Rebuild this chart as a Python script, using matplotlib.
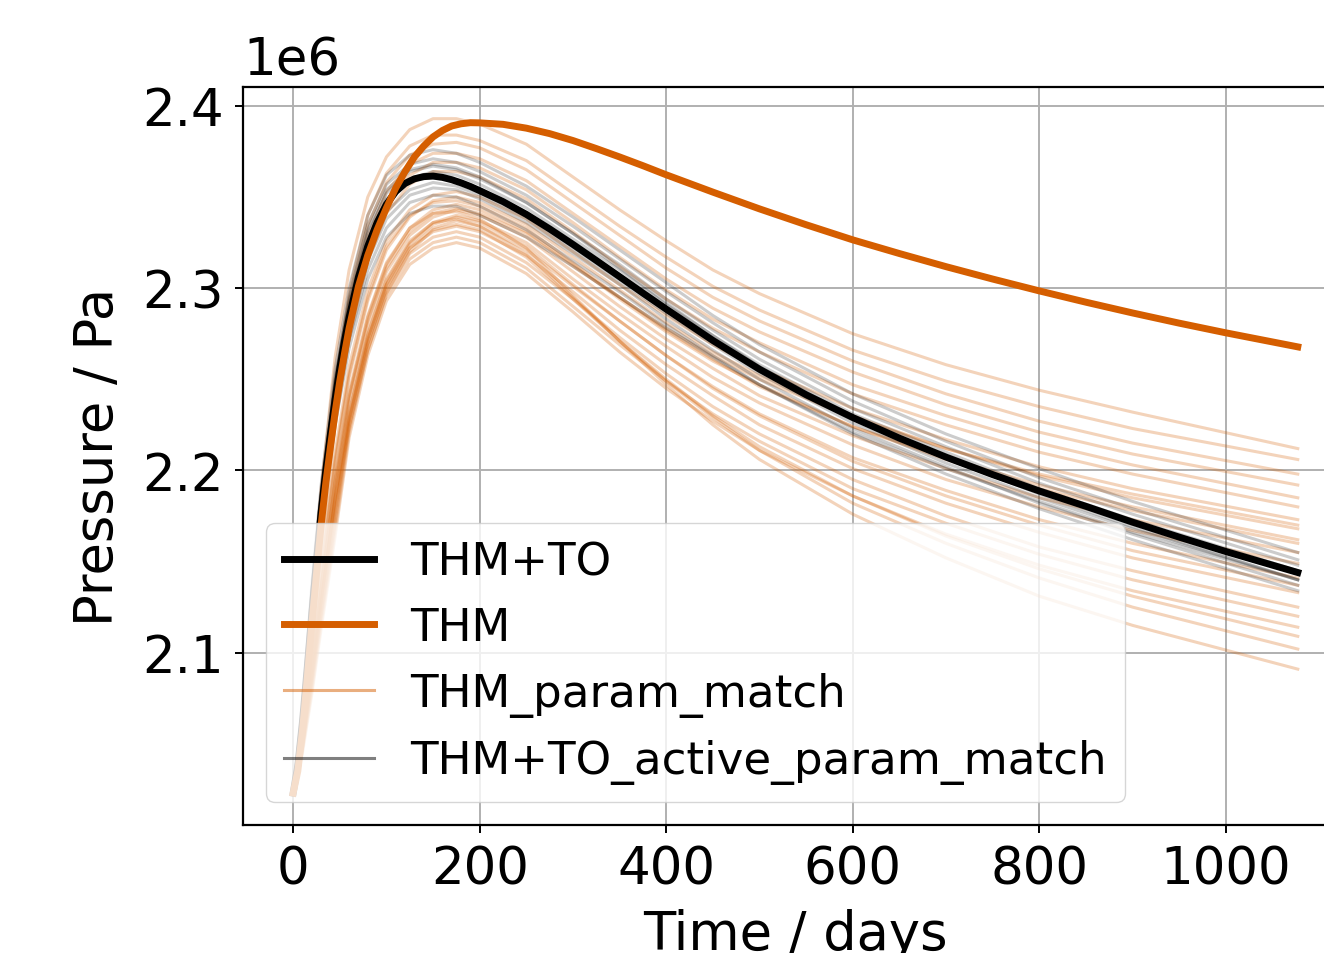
import matplotlib
matplotlib.use("Agg")
import matplotlib.pyplot as plt
from matplotlib.lines import Line2D
import numpy as np

# time axis of the two reference runs (days)
t_main = [0, 5, 10, 15, 20, 25, 30, 35, 40, 45, 50, 55, 60,
          70, 80, 90, 100, 110, 120, 130, 140, 150, 160, 170, 180, 190, 200,
          225, 250, 275, 300, 325, 350, 375, 400,
          450, 500, 550, 600, 650, 700, 750, 800, 850, 900, 950, 1000, 1077]

# pressure (x1e6 Pa)
p_thm_to = [2.023, 2.038, 2.062, 2.091, 2.121, 2.150, 2.177, 2.200, 2.220, 2.239, 2.256, 2.271, 2.284,
            2.306, 2.323, 2.336, 2.346, 2.353, 2.3575, 2.3600, 2.3612, 2.3615, 2.3608, 2.3595, 2.3578, 2.3558, 2.3535,
            2.3475, 2.3405, 2.3325, 2.3240, 2.3152, 2.3063, 2.2973, 2.2885,
            2.2713, 2.2555, 2.2415, 2.2290, 2.2177, 2.2073, 2.1977, 2.1887, 2.1803, 2.1716, 2.1634, 2.1555, 2.1440]
p_thm = [2.023, 2.035, 2.057, 2.085, 2.115, 2.143, 2.170, 2.193, 2.213, 2.232, 2.249, 2.264, 2.278,
         2.301, 2.318, 2.332, 2.344, 2.355, 2.364, 2.372, 2.378, 2.383, 2.3865, 2.389, 2.3902, 2.3908, 2.3907,
         2.3899, 2.3878, 2.3848, 2.3810, 2.3766, 2.3720, 2.3672, 2.3622,
         2.3527, 2.3435, 2.3348, 2.3265, 2.3190, 2.3118, 2.3050, 2.2985, 2.2923, 2.2864, 2.2808, 2.2755, 2.2678]

# time axis of the parameter matched ensembles
t_ens = [0, 10, 20, 30, 45, 60, 80, 100, 125, 150, 175,
         200, 250, 300, 350, 400, 450, 500, 600, 700, 800, 900, 1077]

thm_param_match = [
    [2.023, 2.070, 2.130, 2.190, 2.262, 2.310, 2.350, 2.372, 2.387, 2.393, 2.393, 2.390, 2.379, 2.361, 2.343, 2.326, 2.310, 2.297, 2.275, 2.258, 2.244, 2.232, 2.212],
    [2.023, 2.066, 2.122, 2.178, 2.248, 2.298, 2.340, 2.363, 2.378, 2.384, 2.384, 2.381, 2.370, 2.352, 2.334, 2.317, 2.301, 2.288, 2.266, 2.249, 2.235, 2.223, 2.206],
    [2.023, 2.062, 2.115, 2.168, 2.236, 2.285, 2.328, 2.353, 2.368, 2.374, 2.374, 2.371, 2.359, 2.341, 2.323, 2.305, 2.289, 2.276, 2.254, 2.236, 2.221, 2.209, 2.192],
    [2.023, 2.058, 2.108, 2.158, 2.224, 2.272, 2.315, 2.341, 2.357, 2.364, 2.364, 2.361, 2.349, 2.331, 2.312, 2.294, 2.278, 2.265, 2.242, 2.225, 2.210, 2.198, 2.180],
    [2.023, 2.055, 2.101, 2.148, 2.210, 2.257, 2.299, 2.326, 2.343, 2.351, 2.353, 2.350, 2.338, 2.320, 2.302, 2.285, 2.269, 2.256, 2.234, 2.217, 2.202, 2.190, 2.173],
    [2.023, 2.054, 2.098, 2.143, 2.204, 2.251, 2.293, 2.321, 2.339, 2.348, 2.350, 2.347, 2.335, 2.317, 2.299, 2.281, 2.265, 2.252, 2.230, 2.212, 2.197, 2.185, 2.168],
    [2.023, 2.052, 2.094, 2.137, 2.196, 2.243, 2.285, 2.314, 2.333, 2.343, 2.346, 2.343, 2.331, 2.313, 2.294, 2.276, 2.260, 2.247, 2.224, 2.207, 2.192, 2.180, 2.162],
    [2.023, 2.051, 2.091, 2.133, 2.190, 2.237, 2.279, 2.309, 2.329, 2.339, 2.343, 2.340, 2.328, 2.309, 2.290, 2.272, 2.256, 2.241, 2.219, 2.201, 2.185, 2.173, 2.155],
    [2.023, 2.050, 2.088, 2.129, 2.185, 2.231, 2.274, 2.304, 2.325, 2.336, 2.340, 2.337, 2.325, 2.305, 2.286, 2.268, 2.251, 2.237, 2.214, 2.195, 2.180, 2.167, 2.149],
    [2.023, 2.049, 2.086, 2.126, 2.181, 2.227, 2.270, 2.300, 2.322, 2.333, 2.337, 2.334, 2.321, 2.301, 2.282, 2.263, 2.246, 2.231, 2.207, 2.189, 2.173, 2.160, 2.141],
    [2.023, 2.048, 2.083, 2.122, 2.176, 2.228, 2.272, 2.302, 2.322, 2.331, 2.334, 2.331, 2.318, 2.298, 2.277, 2.258, 2.241, 2.225, 2.201, 2.182, 2.166, 2.152, 2.133],
    [2.023, 2.047, 2.081, 2.119, 2.172, 2.224, 2.269, 2.299, 2.319, 2.328, 2.331, 2.328, 2.314, 2.294, 2.273, 2.253, 2.235, 2.220, 2.195, 2.175, 2.158, 2.145, 2.125],
    [2.023, 2.046, 2.079, 2.116, 2.168, 2.221, 2.266, 2.296, 2.316, 2.325, 2.328, 2.325, 2.311, 2.290, 2.269, 2.249, 2.231, 2.216, 2.190, 2.171, 2.154, 2.140, 2.120],
    [2.023, 2.045, 2.077, 2.113, 2.164, 2.218, 2.263, 2.293, 2.313, 2.322, 2.325, 2.322, 2.308, 2.287, 2.265, 2.245, 2.227, 2.211, 2.186, 2.165, 2.148, 2.134, 2.114],
    [2.023, 2.048, 2.084, 2.123, 2.178, 2.224, 2.266, 2.297, 2.320, 2.332, 2.335, 2.332, 2.317, 2.294, 2.271, 2.250, 2.230, 2.213, 2.186, 2.164, 2.146, 2.131, 2.109],
    [2.023, 2.050, 2.088, 2.129, 2.185, 2.232, 2.275, 2.305, 2.326, 2.336, 2.338, 2.334, 2.319, 2.295, 2.271, 2.249, 2.229, 2.211, 2.182, 2.160, 2.141, 2.125, 2.102],
    [2.023, 2.052, 2.093, 2.136, 2.194, 2.241, 2.284, 2.313, 2.333, 2.341, 2.342, 2.338, 2.322, 2.296, 2.271, 2.247, 2.225, 2.206, 2.176, 2.152, 2.131, 2.115, 2.091],
    [2.023, 2.054, 2.098, 2.145, 2.206, 2.253, 2.295, 2.323, 2.340, 2.347, 2.348, 2.345, 2.333, 2.314, 2.295, 2.277, 2.261, 2.246, 2.224, 2.206, 2.190, 2.178, 2.160],
    [2.023, 2.060, 2.112, 2.163, 2.230, 2.278, 2.321, 2.347, 2.362, 2.369, 2.369, 2.366, 2.354, 2.336, 2.317, 2.299, 2.283, 2.270, 2.247, 2.230, 2.215, 2.203, 2.185],
    [2.023, 2.064, 2.118, 2.173, 2.242, 2.292, 2.334, 2.358, 2.373, 2.379, 2.380, 2.377, 2.365, 2.347, 2.329, 2.311, 2.295, 2.282, 2.260, 2.242, 2.227, 2.215, 2.198],
    [2.023, 2.051, 2.092, 2.135, 2.193, 2.240, 2.282, 2.311, 2.331, 2.341, 2.344, 2.341, 2.330, 2.312, 2.295, 2.278, 2.263, 2.250, 2.229, 2.212, 2.198, 2.187, 2.170],
    [2.023, 2.050, 2.087, 2.128, 2.183, 2.229, 2.272, 2.302, 2.324, 2.335, 2.339, 2.336, 2.323, 2.302, 2.282, 2.263, 2.245, 2.230, 2.205, 2.186, 2.170, 2.156, 2.137],
]

thm_to_active_param_match = [
    [2.023, 2.070, 2.137, 2.192, 2.256, 2.300, 2.340, 2.362, 2.373, 2.376, 2.374, 2.369, 2.356, 2.339, 2.321, 2.303, 2.285, 2.269, 2.242, 2.220, 2.201, 2.183, 2.155],
    [2.023, 2.069, 2.134, 2.188, 2.251, 2.295, 2.335, 2.357, 2.368, 2.371, 2.369, 2.364, 2.351, 2.334, 2.316, 2.298, 2.281, 2.265, 2.238, 2.216, 2.196, 2.179, 2.151],
    [2.023, 2.068, 2.132, 2.185, 2.247, 2.291, 2.330, 2.352, 2.364, 2.367, 2.365, 2.360, 2.347, 2.330, 2.313, 2.294, 2.277, 2.261, 2.234, 2.213, 2.193, 2.176, 2.148],
    [2.023, 2.067, 2.130, 2.182, 2.243, 2.287, 2.326, 2.349, 2.360, 2.364, 2.362, 2.357, 2.344, 2.327, 2.310, 2.291, 2.274, 2.258, 2.231, 2.210, 2.190, 2.173, 2.145],
    [2.023, 2.066, 2.127, 2.178, 2.238, 2.281, 2.319, 2.342, 2.354, 2.358, 2.356, 2.351, 2.338, 2.321, 2.304, 2.286, 2.269, 2.253, 2.226, 2.204, 2.185, 2.168, 2.140],
    [2.023, 2.065, 2.125, 2.175, 2.234, 2.277, 2.315, 2.338, 2.351, 2.355, 2.354, 2.349, 2.336, 2.319, 2.302, 2.283, 2.266, 2.250, 2.223, 2.202, 2.182, 2.165, 2.137],
    [2.023, 2.064, 2.122, 2.171, 2.229, 2.272, 2.310, 2.333, 2.347, 2.351, 2.350, 2.345, 2.332, 2.315, 2.298, 2.280, 2.263, 2.247, 2.220, 2.198, 2.179, 2.162, 2.134],
    [2.023, 2.069, 2.133, 2.186, 2.249, 2.293, 2.332, 2.354, 2.365, 2.368, 2.366, 2.361, 2.347, 2.330, 2.311, 2.292, 2.274, 2.257, 2.229, 2.207, 2.187, 2.169, 2.140],
    [2.023, 2.063, 2.120, 2.168, 2.225, 2.267, 2.305, 2.328, 2.341, 2.345, 2.345, 2.340, 2.328, 2.312, 2.295, 2.278, 2.262, 2.247, 2.221, 2.201, 2.183, 2.166, 2.140],
]

orange = "#D55E00"
scale = 1e6

fig = plt.figure(figsize=(13.24, 9.54), dpi=100)
ax = fig.add_axes([0.1835, 0.1342, 0.8346, 0.7736])

for p in thm_param_match:
    ax.plot(t_ens, np.array(p) * scale, color=orange, alpha=0.27, lw=2.2, zorder=2)
for p in thm_to_active_param_match:
    ax.plot(t_ens, np.array(p) * scale, color="black", alpha=0.2, lw=2.2, zorder=3)

ax.plot(t_main, np.array(p_thm_to) * scale, color="black", lw=5, zorder=4)
ax.plot(t_main, np.array(p_thm) * scale, color=orange, lw=5, zorder=5)

ax.set_xlim(-53.8, 1130.8)
ax.set_ylim(2.0055e6, 2.4104e6)
ax.set_xticks([0, 200, 400, 600, 800, 1000])
ax.set_yticks([2.1e6, 2.2e6, 2.3e6, 2.4e6])
ax.grid(True, color="#b0b0b0", lw=1.4)
ax.set_axisbelow(True)

ax.tick_params(labelsize=37, length=6, width=1.4, pad=8)
ax.yaxis.get_offset_text().set_fontsize(37)
ax.yaxis.OFFSETTEXTPAD = 9
for s in ax.spines.values():
    s.set_linewidth(1.6)

ax.set_xlabel("Time / days", fontsize=38, labelpad=10)
ax.set_ylabel("Pressure / Pa", fontsize=38, labelpad=13)

handles = [
    Line2D([], [], color="black", lw=5),
    Line2D([], [], color=orange, lw=5),
    Line2D([], [], color=orange, lw=2.2, alpha=0.5),
    Line2D([], [], color="black", lw=2.2, alpha=0.5),
]
labels = ["THM+TO", "THM", "THM_param_match", "THM+TO_active_param_match"]
ax.legend(handles, labels, loc="lower left", fontsize=32.5)

fig.savefig("out.png", dpi=100)
